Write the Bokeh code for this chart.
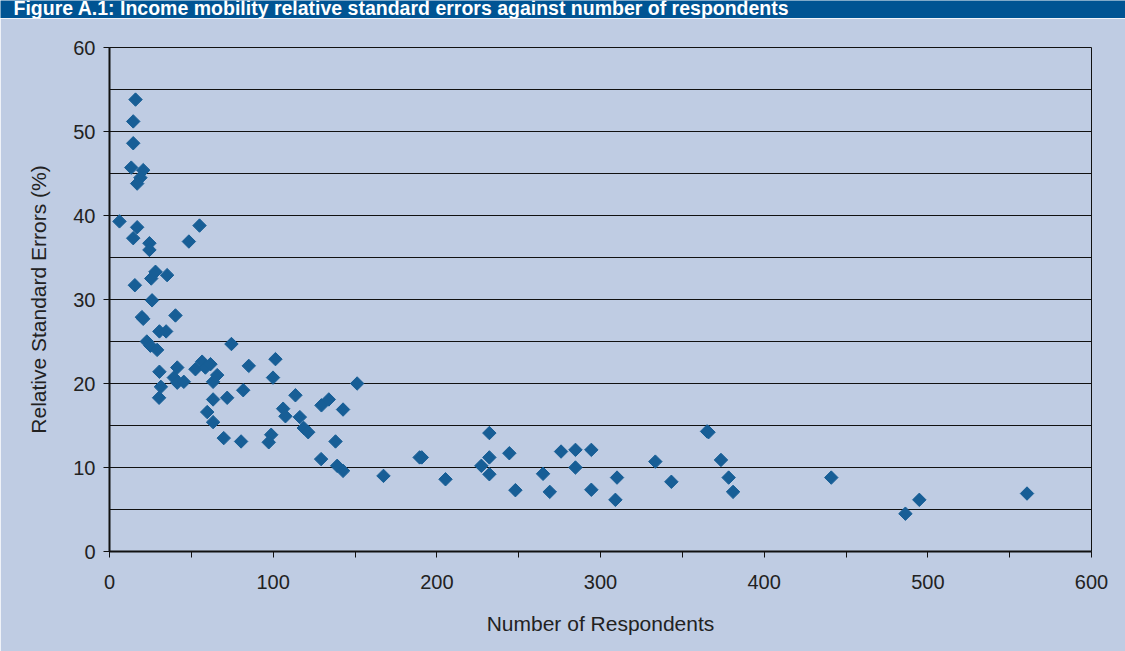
from bokeh.plotting import figure
from bokeh.models import Range1d, FixedTicker, Label
from bokeh.layouts import column
from bokeh.embed import file_html
from bokeh.resources import INLINE

# ---- data ----
respondents = [
    6.1, 15.9, 14.5, 14.5, 13.3, 20.6, 18.9, 16.9, 16.9, 14.5, 24.4, 24.4, 48.5, 55.0,
    15.5, 25.5, 28.1, 35.2, 26.0, 19.8, 20.6, 40.3, 30.5, 34.6, 22.8, 25.0, 29.1, 74.5,
    30.5, 41.4, 39.3, 41.4, 45.4, 31.4, 30.3,
    52.5, 56.6, 58.6, 61.7, 65.8, 63.3, 85.1, 81.7, 63.3, 71.9, 59.7, 63.3, 69.8, 80.4,
    101.4, 99.9, 151.3, 113.6, 106.1, 107.5, 116.3, 118.7, 121.4, 129.5, 134.0, 142.7,
    138.1, 98.8, 97.3, 129.3, 139.1, 142.7,
    167.4, 189.5, 190.8, 205.3, 232.1, 232.1, 227.2, 232.1, 244.3, 248.0, 264.9, 269.0,
    275.9, 284.7, 284.7, 294.4, 294.4, 310.1, 309.1, 333.5, 343.3, 365.1, 366.0, 373.6,
    378.3, 381.0, 441.0, 486.3, 494.8, 560.6,
]
rse = [
    39.3, 53.8, 51.2, 48.6, 45.7, 45.4, 44.5, 43.8, 38.6, 37.3, 36.7, 35.9, 36.9, 38.8,
    31.7, 32.5, 33.3, 32.9, 29.9, 27.9, 27.7, 28.1, 26.2, 26.2, 25.0, 24.5, 24.0, 24.7,
    21.4, 21.9, 20.7, 20.1, 20.2, 19.6, 18.3,
    21.7, 22.6, 21.9, 22.3, 21.0, 20.2, 22.1, 19.2, 18.1, 18.3, 16.6, 15.4, 13.5, 13.1,
    22.9, 20.7, 20.0, 18.6, 17.0, 16.1, 16.0, 14.7, 14.2, 17.4, 18.1, 16.9,
    13.1, 13.9, 13.0, 11.0, 10.2, 9.6,
    9.0, 11.2, 11.2, 8.6, 14.1, 11.2, 10.2, 9.2, 11.7, 7.3, 9.25, 7.1,
    11.9, 12.1, 10.0, 12.1, 7.35, 8.8, 6.15, 10.7, 8.3, 14.3, 14.2, 10.9,
    8.8, 7.1, 8.8, 4.5, 6.15, 6.9,
]
x_ticks = [0, 100, 200, 300, 400, 500, 600]
x_minor = [50, 150, 250, 350, 450, 550]
y_ticks = [0, 10, 20, 30, 40, 50, 60]
y_minor = [5, 15, 25, 35, 45, 55]
title_text = "Figure A.1: Income mobility relative standard errors against number of respondents"

BG = "#bfcce3"
HEADER = "#005493"
MARK = "#175e96"
FONT = "Liberation Sans"
W = 1125
HH = 18

# ---- header band ----
h = figure(width=W, height=HH, output_backend="svg", toolbar_location=None,
           x_range=Range1d(0, 1), y_range=Range1d(0, 1),
           min_border=0, min_border_left=0, min_border_right=0,
           min_border_top=0, min_border_bottom=0)
h.frame_align = False
h.axis.visible = False
h.grid.visible = False
h.outline_line_color = None
h.background_fill_color = HEADER
h.border_fill_color = HEADER
h.add_layout(Label(x=13, y=11, x_units="screen", y_units="screen", text=title_text,
                   text_font=FONT, text_font_size="19.5px", text_font_style="bold",
                   text_color="white", text_baseline="alphabetic"))

# ---- main chart ----
p = figure(width=W, height=651 - HH, output_backend="svg", toolbar_location=None,
           x_range=Range1d(0, 600), y_range=Range1d(0, 60),
           min_border_left=109, min_border_right=34, min_border_top=29, min_border_bottom=100)
p.frame_align = False
p.background_fill_color = BG
p.border_fill_color = BG
p.outline_line_color = "#111111"
p.outline_line_width = 1

p.scatter(respondents, rse, marker="square", size=9.5, angle=0.785398,
          fill_color=MARK, line_color=MARK)

xa = p.xaxis[0]
xa.ticker = FixedTicker(ticks=x_ticks, minor_ticks=x_minor)
xa.axis_label = "Number of Respondents"
ya = p.yaxis[0]
ya.ticker = FixedTicker(ticks=y_ticks, minor_ticks=y_minor)
ya.axis_label = "Relative Standard Errors (%)"
for ax in (xa, ya):
    ax.axis_line_color = "#111111"
    ax.axis_line_width = 2
    ax.major_tick_line_color = "#111111"
    ax.major_tick_out = 6
    ax.major_tick_in = 0
    ax.minor_tick_in = 0
    ax.major_label_text_font = FONT
    ax.major_label_text_font_size = "20px"
    ax.major_label_text_color = "#222222"
    ax.axis_label_text_font = FONT
    ax.axis_label_text_font_size = "21px"
    ax.axis_label_text_font_style = "normal"
    ax.axis_label_text_color = "#222222"
xa.minor_tick_out = 6
xa.minor_tick_line_color = "#111111"
ya.minor_tick_out = 0
xa.major_label_standoff = 17
xa.axis_label_standoff = 20
ya.major_label_standoff = 8
ya.axis_label_standoff = 20

p.xgrid.grid_line_color = None
p.ygrid.grid_line_color = "#111111"
p.ygrid.grid_line_width = 1
p.ygrid.minor_grid_line_color = "#111111"
p.ygrid.minor_grid_line_width = 1

layout = column(h, p, spacing=0)
open("out.html", "w").write(file_html(layout, INLINE))
